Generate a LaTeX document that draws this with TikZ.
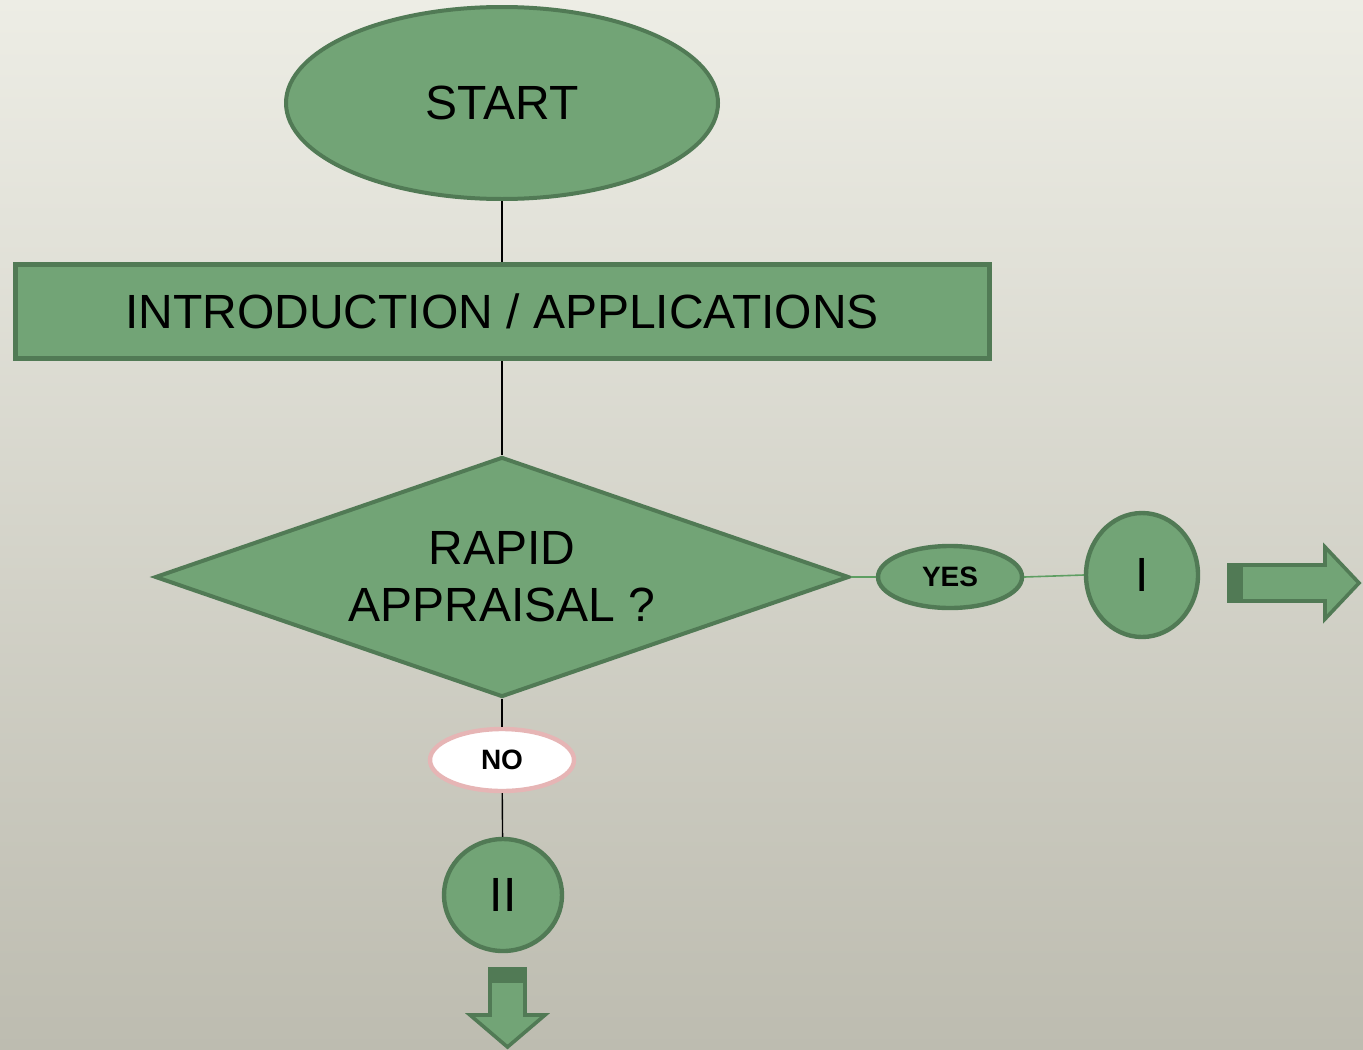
\documentclass[tikz,border=0pt]{standalone}
\usepackage{fontspec}
\setmainfont{Liberation Sans}
\usepackage{xcolor}
\usetikzlibrary{shapes.geometric}
\usetikzlibrary{positioning}
\definecolor{Gruen}{HTML}{72A476}
\definecolor{Rand}{HTML}{517A55}
\definecolor{Linie}{HTML}{5E9E62}
\definecolor{Rosa}{HTML}{E6B5B5}
\definecolor{HGoben}{HTML}{EDEDE5}
\definecolor{HGunten}{HTML}{BDBCB0}
\tikzset{
  Feld/.style={draw=Rand, fill=Gruen, line width=#1, inner sep=0pt}, % grüne Flächen
  Gross/.style={font=\fontsize{24}{28.5}\selectfont, align=center},  % große Schrift
  Klein/.style={font=\fontsize{14}{16}\selectfont\bfseries},         % YES / NO
  Verb/.style={draw=black, line width=0.7pt},                          % Verbindungen
  GVerb/.style={draw=Linie, line width=0.8pt}                          % grüne Verbindungen
}

\begin{document}
\begin{tikzpicture}[x=0.5pt, y=-0.5pt]
\useasboundingbox (0,0) rectangle (1363,1049);
%Hintergrund
\shade[top color=HGoben, bottom color=HGunten] (0,0) rectangle (1363,1049);

%Knoten
\node (start) [Feld=2pt, Gross, ellipse, minimum width=216pt, minimum height=96pt] at (502,103) {START};
\node (intro) [Feld=2.5pt, Gross, rectangle, minimum width=487pt, minimum height=47pt] at (502,311.5) {INTRODUCTION / APPLICATIONS};
\node (rapid) [Feld=2pt, Gross, diamond, aspect=2.9, minimum width=347pt, minimum height=120pt] at (502,577) {RAPID\\APPRAISAL ?};
\node (yes) [Feld=2.2pt, Klein, ellipse, minimum width=72pt, minimum height=31pt] at (950,577) {YES};
\node (eins) [Feld=2.2pt, Gross, ellipse, minimum width=56pt, minimum height=62pt] at (1142,575) {I};
\node (no) [draw=Rosa, fill=white, line width=2.2pt, Klein, ellipse, inner sep=0pt, minimum width=72pt, minimum height=31pt] at (502,760) {NO};
\node (zwei) [Feld=2.2pt, Gross, ellipse, minimum width=59pt, minimum height=56pt] at (503,895) {II};

%Verbindungen
\draw[Verb] (start) -- (intro);
\draw[Verb] (intro) -- (rapid);
\draw[Verb] (rapid) -- (no);
\draw[Verb] (no) -- (zwei);
\draw[GVerb] (rapid.east) -- (yes.west);
\draw[GVerb] (yes.east) -- (eins.west);

%Blockpfeile
\draw[Feld=1.8pt, line join=miter] (1229,565) -- (1325,565) -- (1325,547) -- (1359,583) -- (1325,619) -- (1325,601) -- (1229,601) -- cycle;
\fill[Rand] (1229,565) rectangle (1243,601);
\draw[Feld=1.8pt, line join=miter] (490,969) -- (525,969) -- (525,1015) -- (545,1015) -- (507.5,1047) -- (470,1015) -- (490,1015) -- cycle;
\fill[Rand] (490,969) rectangle (525,983);
\end{tikzpicture}
\end{document}
